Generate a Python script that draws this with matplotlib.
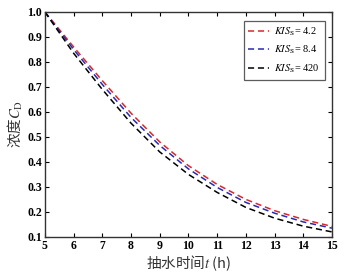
import numpy as np
import matplotlib
matplotlib.use('Agg')
import matplotlib.pyplot as plt

plt.rcParams['font.family'] = ['Liberation Serif', 'Noto Sans CJK SC']
plt.rcParams['mathtext.fontset'] = 'stix'

# pumping time (h)
t = [5, 6, 7, 8, 9, 10, 11, 12, 13, 14, 15]
# concentration C_D for each K/S_S
c_42 = [1.0, 0.86, 0.725, 0.595, 0.48, 0.385, 0.31, 0.25, 0.205, 0.17, 0.142]
c_84 = [1.0, 0.85, 0.71, 0.578, 0.466, 0.372, 0.298, 0.238, 0.195, 0.16, 0.135]
c_420 = [1.0, 0.835, 0.69, 0.555, 0.44, 0.35, 0.278, 0.218, 0.175, 0.143, 0.12]
labels = ['4.2', '8.4', '420']
colors = ['#d42a2a', '#2a2ab0', 'black']

fig = plt.figure(figsize=(3.48, 2.72), dpi=100)
ax = fig.add_axes([0.129, 0.129, 0.825, 0.827])

for y, lab, col in zip([c_42, c_84, c_420], labels, colors):
    ax.plot(t, y, color=col, linestyle=(0, (4, 2.5)), linewidth=1.1,
            label=r'$KIS_{\rm S}$= ' + lab)

ax.set_xlim(5, 15)
ax.set_ylim(0.1, 1.0)
ax.set_xticks(range(5, 16))
ax.set_yticks(np.round(np.arange(0.1, 1.01, 0.1), 1))
ax.tick_params(direction='in', top=True, right=True, length=3, width=0.8,
               labelsize=8.5, pad=2)
for lb in ax.get_xticklabels() + ax.get_yticklabels():
    lb.set_fontweight('bold')
for s in ax.spines.values():
    s.set_linewidth(1.0)
    s.set_color('#333333')

ax.set_xlabel(r'抽水时间$t$ (h)', fontsize=10.5, labelpad=1,
              family='Noto Sans CJK SC', color='#333333')
ax.set_ylabel(r'浓度$C_{\rm D}$', fontsize=10.5, labelpad=2,
              family='Noto Sans CJK SC', color='#333333')

leg = ax.legend(loc='upper right', fontsize=7.5, frameon=True, fancybox=False,
                edgecolor='#333333', handlelength=2.0, borderpad=0.45,
                labelspacing=0.6, handletextpad=0.5,
                bbox_to_anchor=(0.993, 0.985))
leg.get_frame().set_linewidth(0.9)

fig.savefig('out.png', dpi=100)
